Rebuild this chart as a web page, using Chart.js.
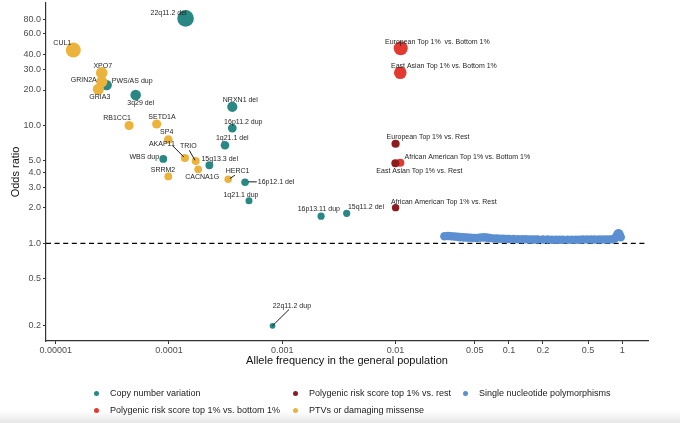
<!DOCTYPE html>
<html><head><meta charset="utf-8">
<script src="https://cdn.jsdelivr.net/npm/chart.js@4.4.1/dist/chart.umd.min.js"></script>
<style>
html,body{margin:0;padding:0;}
body{width:680px;height:423px;position:relative;overflow:hidden;background:linear-gradient(to bottom,#ffffff 0px,#ffffff 411px,#e6e6e6 423px);font-family:"Liberation Sans",Arial,sans-serif;}
#wrap{position:absolute;left:0;top:0;width:680px;height:372px;}
#legend{position:absolute;left:0;top:0;width:680px;height:423px;pointer-events:none;}
.li{position:absolute;font-size:9px;color:#1a1a1a;white-space:nowrap;line-height:10px;}
.dot{position:absolute;width:5px;height:5px;border-radius:50%;}
</style></head><body>
<div id="wrap"><canvas id="c" width="680" height="372"></canvas></div>
<div id="legend"></div>
<script>
// ---------------- DATA ----------------
const cnvLabels = ['22q11.2 del','PWS/AS dup','3q29 del','NRXN1 del','16p11.2 dup','1q21.1 del','WBS dup','15q13.3 del','16p12.1 del','1q21.1 dup','16p13.11 dup','15q11.2 del','22q11.2 dup'];
const cnvFreq   = [1.40e-4, 2.82e-5, 5.08e-5, 3.62e-4, 3.62e-4, 3.12e-4, 8.9e-5, 2.27e-4, 4.69e-4, 5.08e-4, 2.2e-3, 3.7e-3, 8.2e-4];
const cnvOR     = [81, 22, 18.1, 14.4, 9.5, 6.8, 5.2, 4.6, 3.3, 2.3, 1.7, 1.8, 0.2];

const ptvLabels = ['CUL1','XPO7','GRIN2A','GRIA3','RB1CC1','SETD1A','SP4','AKAP11','TRIO','SRRM2','CACNA1G','HERC1'];
const ptvFreq   = [1.43e-5, 2.55e-5, 2.55e-5, 2.38e-5, 4.44e-5, 7.78e-5, 9.86e-5, 1.38e-4, 1.72e-4, 9.86e-5, 1.81e-4, 3.33e-4];
const ptvOR     = [43.7, 28, 23.5, 20.3, 10.0, 10.3, 7.6, 5.3, 5.0, 3.7, 4.25, 3.5];

const prsRestLabels = ['European Top 1% vs. Rest','East Asian Top 1% vs. Rest','African American Top 1% vs. Rest'];
const prsRestFreq   = [0.0100, 0.00995, 0.0100];
const prsRestOR     = [7.0, 4.78, 2.01];

const prsBottomLabels = ['European Top 1%  vs. Bottom 1%','East Asian Top 1% vs. Bottom 1%','African American Top 1% vs. Bottom 1%'];
const prsBottomFreq   = [0.0111, 0.0110, 0.0110];
const prsBottomOR     = [45.2, 28, 4.83];

const snpFreq = [0.027,0.029,0.031,0.033,0.035,0.037,0.040,0.043,0.046,0.049,0.052,0.056,0.060,0.064,0.068,0.073,0.078,0.083,0.089,0.095,0.10,0.11,0.12,0.13,0.14,0.15,0.16,0.17,0.18,0.20,0.22,0.24,0.26,0.28,0.30,0.33,0.36,0.39,0.42,0.45,0.49,0.53,0.57,0.62,0.67,0.72,0.77,0.82,0.86,0.89,0.91,0.93,0.95,0.97];
const snpOR   = [1.15,1.155,1.15,1.145,1.14,1.13,1.125,1.12,1.115,1.11,1.11,1.12,1.125,1.12,1.11,1.10,1.10,1.095,1.095,1.09,1.09,1.09,1.085,1.085,1.085,1.08,1.08,1.08,1.08,1.08,1.08,1.075,1.075,1.075,1.075,1.075,1.075,1.075,1.075,1.08,1.08,1.08,1.08,1.08,1.08,1.08,1.08,1.085,1.10,1.15,1.20,1.22,1.19,1.13];

const xTickValues = [0.00001,0.0001,0.001,0.01,0.05,0.1,0.2,0.5,1];
const xTickLabels = ['0.00001','0.0001','0.001','0.01','0.05','0.1','0.2','0.5','1'];
const yTickValues = [0.2,0.5,1,2,3,4,5,10,20,30,40,60,80];
const yTickLabels = ['0.2','0.5','1.0','2.0','3.0','4.0','5.0','10.0','20.0','30.0','40.0','60.0','80.0'];
const referenceOR = 1;

const seriesNames = {
  cnv:'Copy number variation', prsRest:'Polygenic risk score top 1% vs. rest', snp:'Single nucleotide polymorphisms',
  prsBottom:'Polygenic risk score top 1% vs. bottom 1%', ptv:'PTVs or damaging missense'
};

// ---------------- STYLE / LAYOUT ----------------
const colors = { cnv:'#2a8884', prsRest:'#8c1c1f', snp:'#5b8fd2', prsBottom:'#e23a30', ptv:'#ecb33c' };
const radiusByLabel = {
  '22q11.2 del':8.3,'PWS/AS dup':5.2,'3q29 del':5.3,'NRXN1 del':5.1,'16p11.2 dup':4.4,'1q21.1 del':4.3,'WBS dup':3.9,
  '15q13.3 del':3.9,'16p12.1 del':3.8,'1q21.1 dup':3.5,'16p13.11 dup':3.6,'15q11.2 del':3.6,'22q11.2 dup':2.9,
  'CUL1':7.5,'XPO7':5.8,'GRIN2A':5.6,'GRIA3':5.6,'RB1CC1':4.6,'SETD1A':4.6,'SP4':4.3,'AKAP11':4.1,'TRIO':4.0,
  'SRRM2':3.9,'CACNA1G':3.9,'HERC1':3.8,
  'European Top 1% vs. Rest':4.1,'East Asian Top 1% vs. Rest':4.0,'African American Top 1% vs. Rest':3.7,
  'European Top 1%  vs. Bottom 1%':7.0,'East Asian Top 1% vs. Bottom 1%':6.3,'African American Top 1% vs. Bottom 1%':4.1
};
const snpRadius = 4.3;
const labelLayout = {
  '22q11.2 del':{dx:-17,dy:-5.6}, 'CUL1':{dx:-11,dy:-7.3}, 'XPO7':{dx:1,dy:-7},
  'GRIN2A':{dx:-5,dy:-1.7,align:'right'}, 'PWS/AS dup':{dx:5,dy:-4,align:'left'}, 'GRIA3':{dx:1.4,dy:8},
  '3q29 del':{dx:5,dy:8}, 'RB1CC1':{dx:-12,dy:-7.4}, 'SETD1A':{dx:5.3,dy:-6.7},
  'NRXN1 del':{dx:8,dy:-6.7}, '16p11.2 dup':{dx:11,dy:-6}, '1q21.1 del':{dx:7.3,dy:-6.7},
  'SP4':{dx:-1.6,dy:-7}, 'AKAP11':{dx:-23,dy:-14,line:[-1,-1,-12.3,-12.3]},
  'TRIO':{dx:-7.4,dy:-14.7,line:[-0.7,-0.7,-6.4,-10.7]}, 'WBS dup':{dx:-19,dy:-1.7},
  '15q13.3 del':{dx:10.4,dy:-6}, 'SRRM2':{dx:-5.3,dy:-6}, 'CACNA1G':{dx:4,dy:7.4},
  'HERC1':{dx:9.4,dy:-8.3,line:[1.7,-0.7,6.7,-4]}, '16p12.1 del':{dx:12.7,dy:0,align:'left',line:[3.3,-0.4,11.7,-0.4]},
  '1q21.1 dup':{dx:-8,dy:-5.7}, '16p13.11 dup':{dx:-2.3,dy:-6.7}, '15q11.2 del':{dx:19.3,dy:-6.6},
  '22q11.2 dup':{dx:19.3,dy:-20,line:[0,0,16.6,-16.4]},
  'European Top 1%  vs. Bottom 1%':{dx:-15.7,dy:-6,align:'left'},
  'East Asian Top 1% vs. Bottom 1%':{dx:-9.3,dy:-7,align:'left'},
  'European Top 1% vs. Rest':{dx:-9,dy:-6.7,align:'left'},
  'African American Top 1% vs. Bottom 1%':{dx:4.3,dy:-6,align:'left'},
  'East Asian Top 1% vs. Rest':{dx:-19,dy:7.4,align:'left'},
  'African American Top 1% vs. Rest':{dx:-4.7,dy:-6,align:'left'}
};
const legendLayout = [
  {key:'cnv', x:96, y:393}, {key:'prsRest', x:295, y:393}, {key:'snp', x:465, y:393},
  {key:'prsBottom', x:96, y:410}, {key:'ptv', x:295, y:410}
];
const FONT = '"Liberation Sans", Arial, Helvetica, sans-serif';

// ---------------- BUILD ----------------
const pts = (f, o) => f.map((v, i) => ({x: v, y: o[i]}));
function mkSet(key, freq, or, labels, radiusFn) {
  return {
    label: seriesNames[key], key: key, data: pts(freq, or), pointLabels: labels,
    backgroundColor: colors[key], borderWidth: 0, pointBorderWidth: 0,
    pointRadius: radiusFn, pointHoverRadius: radiusFn, showLine: false
  };
}
const rByLabel = (labels) => (ctx) => radiusByLabel[labels[ctx.dataIndex]] || 4;

const datasets = [
  mkSet('snp', snpFreq, snpOR, null, () => snpRadius),
  mkSet('ptv', ptvFreq, ptvOR, ptvLabels, rByLabel(ptvLabels)),
  mkSet('cnv', cnvFreq, cnvOR, cnvLabels, rByLabel(cnvLabels)),
  mkSet('prsRest', prsRestFreq, prsRestOR, prsRestLabels, rByLabel(prsRestLabels)),
  mkSet('prsBottom', prsBottomFreq, prsBottomOR, prsBottomLabels, rByLabel(prsBottomLabels))
];

const refLinePlugin = {
  id: 'refLine',
  beforeDatasetsDraw(chart) {
    const {ctx, chartArea} = chart;
    const y = chart.scales.y.getPixelForValue(referenceOR);
    ctx.save();
    ctx.strokeStyle = '#000'; ctx.lineWidth = 1.2; ctx.setLineDash([5, 3.6]);
    ctx.beginPath(); ctx.moveTo(chartArea.left, y); ctx.lineTo(chartArea.right, y); ctx.stroke();
    ctx.restore();
  }
};
const pointLabelPlugin = {
  id: 'pointLabels',
  afterDatasetsDraw(chart) {
    const ctx = chart.ctx, xs = chart.scales.x, ys = chart.scales.y;
    ctx.save();
    ctx.font = '7px ' + FONT;
    ctx.fillStyle = '#1f1f1f'; ctx.strokeStyle = '#000'; ctx.lineWidth = 0.9;
    chart.data.datasets.forEach(ds => {
      if (!ds.pointLabels) return;
      ds.data.forEach((p, i) => {
        const lab = ds.pointLabels[i]; const L = labelLayout[lab]; if (!L) return;
        const px = xs.getPixelForValue(p.x), py = ys.getPixelForValue(p.y);
        if (L.line) { ctx.beginPath(); ctx.moveTo(px + L.line[0], py + L.line[1]); ctx.lineTo(px + L.line[2], py + L.line[3]); ctx.stroke(); }
        ctx.textAlign = L.align || 'center'; ctx.textBaseline = 'middle';
        ctx.fillText(lab, px + L.dx, py + L.dy);
      });
    });
    ctx.restore();
  }
};

const axisColor = '#333333';
new Chart(document.getElementById('c'), {
  type: 'scatter',
  data: { datasets },
  options: {
    responsive: false, animation: false, events: [],
    layout: { autoPadding: false, padding: { top: 3, right: 32, left: 0, bottom: 0 } },
    plugins: { legend: { display: false }, tooltip: { enabled: false } },
    scales: {
      x: {
        type: 'logarithmic', min: 8.21e-6, max: 1.69,
        afterBuildTicks: (s) => { s.ticks = xTickValues.map(v => ({ value: v })); },
        afterFit: (s) => { s.height = 31; s.paddingLeft = 0; s.paddingRight = 0; },
        ticks: { autoSkip: false, maxRotation: 0, padding: 1, color: '#4d4d4d', font: { family: FONT, size: 9 },
                 callback: (v, i) => xTickLabels[i] },
        grid: { drawOnChartArea: false, drawTicks: true, tickLength: 3, color: axisColor, lineWidth: 1 },
        border: { display: true, color: axisColor, width: 1.2 },
        title: { display: true, text: 'Allele frequency in the general population', color: '#111',
                 font: { family: FONT, size: 11 }, padding: { top: 0, bottom: 4 } }
      },
      y: {
        type: 'logarithmic', min: 0.1486, max: 109.4,
        afterBuildTicks: (s) => { s.ticks = yTickValues.map(v => ({ value: v })); },
        afterFit: (s) => { s.width = 46; s.paddingTop = 0; s.paddingBottom = 0; },
        ticks: { autoSkip: false, padding: 2, color: '#4d4d4d', font: { family: FONT, size: 9 },
                 callback: (v, i) => yTickLabels[i] },
        grid: { drawOnChartArea: false, drawTicks: true, tickLength: 3, color: axisColor, lineWidth: 1 },
        border: { display: true, color: axisColor, width: 1.2 },
        title: { display: true, text: 'Odds ratio', color: '#111',
                 font: { family: FONT, size: 11 }, padding: { top: 9, bottom: 0 } }
      }
    }
  },
  plugins: [refLinePlugin, pointLabelPlugin]
});

// HTML legend built from series names and colours
const leg = document.getElementById('legend');
legendLayout.forEach(item => {
  const d = document.createElement('div'); d.className = 'dot';
  d.style.left = (item.x - 2.5) + 'px'; d.style.top = (item.y - 2.5) + 'px'; d.style.background = colors[item.key];
  const t = document.createElement('div'); t.className = 'li'; t.textContent = seriesNames[item.key];
  t.style.left = (item.x + 14) + 'px'; t.style.top = (item.y - 5) + 'px';
  leg.appendChild(d); leg.appendChild(t);
});
</script>
</body></html>
